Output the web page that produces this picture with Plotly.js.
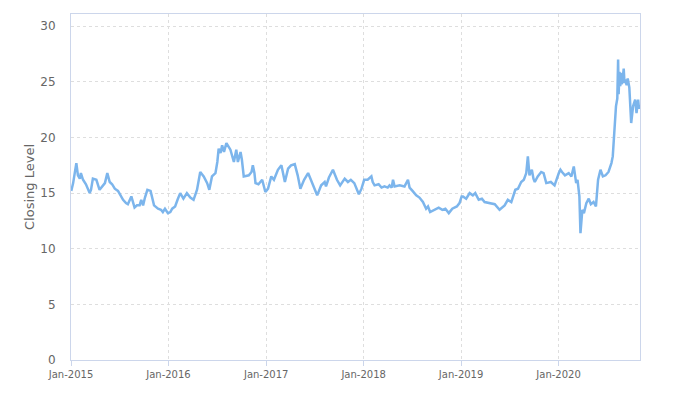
<!DOCTYPE html>
<html>
<head>
<meta charset="utf-8">
<script src="https://cdn.plot.ly/plotly-3.0.1.min.js"></script>
<style>html,body{margin:0;padding:0;background:#fff;}#chart{width:683px;height:396px;}</style>
</head>
<body>
<div id="chart"></div>
<script>
const dates = [
"2015-01-02","2015-01-09","2015-01-21","2015-01-27","2015-02-03","2015-02-07","2015-02-15","2015-02-26","2015-03-12","2015-03-17","2015-03-24","2015-04-06","2015-04-18","2015-05-01","2015-05-08","2015-05-17","2015-05-26","2015-06-04","2015-06-14","2015-06-26","2015-07-03","2015-07-15","2015-07-26","2015-08-02","2015-08-15","2015-08-21","2015-08-27","2015-09-05","2015-09-15","2015-09-21","2015-09-28","2015-10-05","2015-10-14","2015-10-26","2015-11-02","2015-11-08","2015-11-23","2015-12-04","2015-12-11","2015-12-19","2015-12-30",
"2016-01-08","2016-01-15","2016-01-26","2016-02-04","2016-02-14","2016-02-26","2016-03-10","2016-03-23","2016-04-04","2016-04-17","2016-04-24","2016-04-29","2016-05-12","2016-05-25","2016-06-02","2016-06-12","2016-06-25","2016-07-02","2016-07-07","2016-07-14","2016-07-20","2016-07-27","2016-08-05","2016-08-13","2016-08-20","2016-09-02","2016-09-11","2016-09-17","2016-09-27","2016-10-02","2016-10-09","2016-10-28","2016-11-07","2016-11-12","2016-11-18","2016-11-22","2016-12-03","2016-12-17","2016-12-29",
"2017-01-08","2017-01-15","2017-01-20","2017-01-30","2017-02-14","2017-02-27","2017-03-05","2017-03-12","2017-03-24","2017-04-04","2017-04-18","2017-04-29","2017-05-09","2017-05-23","2017-06-07","2017-06-16","2017-06-26","2017-07-03","2017-07-11","2017-07-26","2017-08-08","2017-08-13","2017-08-24","2017-09-08","2017-09-23","2017-10-05","2017-10-22","2017-11-03","2017-11-14","2017-11-27","2017-12-07","2017-12-14","2017-12-24","2017-12-30",
"2018-01-03","2018-01-16","2018-01-30","2018-02-04","2018-02-11","2018-02-26","2018-03-09","2018-03-20","2018-04-01","2018-04-08","2018-04-16","2018-04-21","2018-04-27","2018-05-16","2018-06-03","2018-06-16","2018-06-22","2018-07-03","2018-07-17","2018-07-29","2018-08-11","2018-08-23","2018-08-30","2018-09-07","2018-09-23","2018-10-09","2018-10-23","2018-11-03","2018-11-16","2018-11-29","2018-12-16","2018-12-26",
"2019-01-03","2019-01-08","2019-01-20","2019-02-02","2019-02-14","2019-02-23","2019-03-08","2019-03-20","2019-03-30","2019-04-18","2019-05-07","2019-05-25","2019-06-13","2019-06-25","2019-07-08","2019-07-23","2019-08-02","2019-08-14","2019-08-24","2019-09-02","2019-09-08","2019-09-14","2019-09-23","2019-09-29","2019-10-04","2019-10-15","2019-10-28","2019-11-06","2019-11-16","2019-12-03","2019-12-17",
"2020-01-02","2020-01-08","2020-01-14","2020-01-25","2020-02-08","2020-02-18","2020-02-27","2020-03-07","2020-03-12","2020-03-19","2020-03-23","2020-03-30","2020-04-05","2020-04-14","2020-04-23","2020-05-01","2020-05-11","2020-05-20","2020-05-28","2020-06-06","2020-06-15","2020-06-25","2020-07-06","2020-07-17","2020-07-22","2020-07-29","2020-08-03","2020-08-08","2020-08-11","2020-08-13","2020-08-16","2020-08-19","2020-08-21","2020-08-24","2020-08-27","2020-09-01","2020-09-04","2020-09-07","2020-09-12","2020-09-16","2020-09-22","2020-09-29","2020-10-02","2020-10-06","2020-10-14","2020-10-19","2020-10-25","2020-10-28","2020-11-01"
];
const closingLevel = [
15.2,15.9,17.7,16.6,16.3,16.8,16.2,15.8,15.0,15.3,16.3,16.2,15.3,15.7,15.9,16.8,16.0,15.8,15.4,15.2,14.9,14.4,14.1,14.0,14.7,14.2,13.7,13.9,13.9,14.4,13.9,14.6,15.3,15.2,14.5,13.9,13.6,13.5,13.3,13.6,13.2,
13.3,13.6,13.8,14.4,15.0,14.5,15.0,14.6,14.4,15.3,16.2,16.9,16.5,15.9,15.3,16.5,16.8,17.8,19.0,18.6,19.3,18.7,19.5,19.1,18.9,17.8,18.9,17.8,18.7,18.0,16.5,16.6,16.9,17.5,16.8,15.9,15.8,16.2,15.1,
15.4,16.0,16.5,16.2,17.1,17.5,16.8,16.0,17.2,17.5,17.6,16.6,15.4,16.2,16.8,16.3,15.6,15.2,14.8,15.7,16.0,15.6,16.4,17.1,16.2,15.7,16.3,16.0,16.2,15.9,15.3,14.9,15.4,15.8,
16.2,16.2,16.5,16.0,15.7,15.8,15.5,15.6,15.5,15.7,15.5,16.2,15.6,15.7,15.6,16.2,15.5,15.2,14.8,14.6,14.2,13.6,13.8,13.3,13.5,13.7,13.5,13.6,13.2,13.6,13.8,14.1,
14.7,14.7,14.5,15.0,14.8,15.0,14.4,14.5,14.2,14.1,14.0,13.5,13.9,14.4,14.2,15.3,15.4,16.0,16.2,16.8,18.3,16.6,17.1,16.3,16.0,16.5,16.9,16.8,15.9,16.0,15.7,
16.8,17.1,16.9,16.6,16.8,16.5,17.4,15.9,16.2,14.7,11.4,13.5,13.2,14.1,14.5,14.0,14.2,13.8,16.2,17.1,16.5,16.6,16.9,17.7,18.3,21.0,22.8,23.5,27.0,23.9,25.9,24.6,25.8,24.8,25.0,26.2,24.9,25.2,24.7,25.3,24.5,21.3,22.3,22.8,23.4,22.2,23.4,22.6,22.9
];
const yTitle = "Closing Level";

const gridStyle = {gridcolor:"#dedede", griddash:"3px,3px", gridwidth:1};
Plotly.newPlot("chart", [{
  x: dates, y: closingLevel, type: "scatter", mode: "lines",
  line: {color: "#7cb5ec", width: 2.5}, hoverinfo: "x+y"
}], {
  width: 683, height: 396,
  margin: {l: 71, r: 43, t: 14, b: 36},
  paper_bgcolor: "#fff", plot_bgcolor: "#fff",
  showlegend: false,
  font: {family: "DejaVu Sans, sans-serif", color: "#666666"},
  xaxis: Object.assign({
    type: "date", range: ["2015-01-01", "2020-11-01"],
    tickformat: "%b-%Y", dtick: "M12", tick0: "2015-01-01",
    tickfont: {size: 10, color: "#666666"},
    showline: true, linecolor: "#ccd6eb", linewidth: 1, mirror: true,
    ticks: "outside", ticklen: 5, tickcolor: "#ccd6eb",
    zeroline: false
  }, gridStyle),
  yaxis: Object.assign({
    range: [0, 31.1], dtick: 5, tick0: 0,
    tickfont: {size: 12, color: "#666666"},
    ticklabelstandoff: 12,
    showline: true, linecolor: "#ccd6eb", linewidth: 1, mirror: true,
    ticks: "", zeroline: false,
    title: {text: yTitle, font: {size: 13, color: "#666666"}, standoff: 2}
  }, gridStyle)
}, {displayModeBar: false, staticPlot: true});
</script>
</body>
</html>
